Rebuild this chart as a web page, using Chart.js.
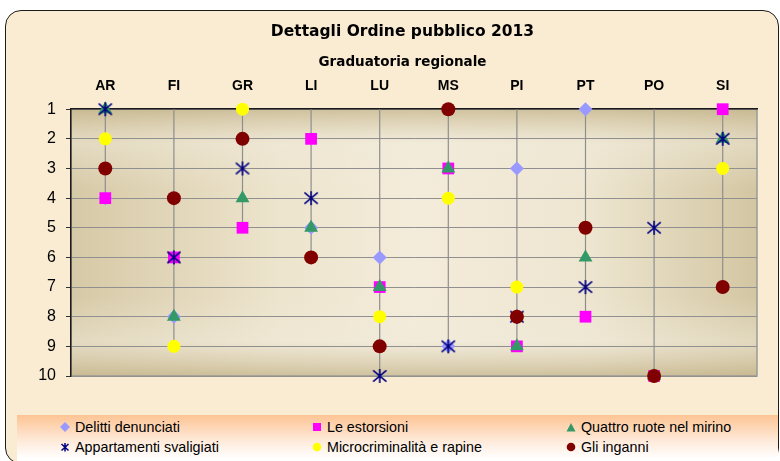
<!DOCTYPE html>
<html><head><meta charset="utf-8">
<script src="https://cdn.jsdelivr.net/npm/chart.js@4/dist/chart.umd.min.js"></script>
<style>
html,body{margin:0;padding:0;background:#fff;width:780px;height:461px;overflow:hidden;position:relative;}
#frame{position:absolute;left:5px;top:10px;width:774px;height:454px;border:1.5px solid #1c1c1c;border-radius:16px;background:#faecd3;box-sizing:border-box;}
#wrap{position:absolute;left:0;top:0;width:780px;height:461px;}
#legend{position:absolute;left:17px;top:415px;width:761px;height:46px;background:linear-gradient(#fdc494,#fee9d8 55%,#fff 95%);font-family:"Liberation Sans",Arial,sans-serif;font-size:14.3px;color:#000;}
.item{position:absolute;height:16px;line-height:16px;white-space:nowrap;}
.item svg{position:absolute;left:-5px;top:3px;}
.item span{position:absolute;left:10px;top:0;}
</style></head>
<body>
<div id="frame"></div>
<div id="wrap"><canvas id="c" width="780" height="461"></canvas></div>
<div id="legend"></div>
<script>
// ---- data ----
const categories = ['AR','FI','GR','LI','LU','MS','PI','PT','PO','SI'];
const seriesNames = ['Delitti denunciati','Le estorsioni','Quattro ruote nel mirino','Appartamenti svaligiati','Microcriminalità e rapine','Gli inganni'];
const delitti        = [4, 8, 2, 5, 6, 9, 3, 1, 10, 7];
const estorsioni     = [4, 6, 5, 2, 7, 3, 9, 8, 10, 1];
const quattroRuote   = [1, 8, 4, 5, 7, 3, 9, 6, 10, 2];
const appartamenti   = [1, 6, 3, 4, 10, 9, 8, 7, 5, 2];
const microcrimine   = [2, 9, 1, 6, 8, 4, 7, 5, 10, 3];
const inganni        = [3, 4, 2, 6, 9, 1, 8, 5, 10, 7];
const rankTicks      = [1, 2, 3, 4, 5, 6, 7, 8, 9, 10];

const allSeries = [delitti, estorsioni, quattroRuote, appartamenti, microcrimine, inganni];

// star marker (X with vertical stroke), navy
function makeStar(size, lw){
  const c = document.createElement('canvas');
  c.width = size; c.height = size;
  const g = c.getContext('2d');
  g.strokeStyle = '#000080'; g.lineWidth = lw;
  const m = size/2, r = size/2 - 1;
  g.beginPath();
  g.moveTo(m - r*0.95, m - r*0.8); g.lineTo(m + r*0.95, m + r*0.8);
  g.moveTo(m + r*0.95, m - r*0.8); g.lineTo(m - r*0.95, m + r*0.8);
  g.moveTo(m, m - r); g.lineTo(m, m + r);
  g.stroke();
  return c;
}
const starImg = makeStar(16, 1.6);

const styles = [
  {color:'#9999ff', pointStyle:'rectRot', radius:7},
  {color:'#ff00ff', pointStyle:'rect', radius:8.3},
  {color:'#339966', pointStyle:'triangle', radius:8},
  {color:'#000080', pointStyle:starImg, radius:8},
  {color:'#ffff00', pointStyle:'circle', radius:6.5},
  {color:'#800000', pointStyle:'circle', radius:7}
];

const dropMax = categories.map((_, i) => Math.max(...allSeries.map(s => s[i])));

const datasets = allSeries.map((s, i) => ({
  type: 'line',
  label: seriesNames[i],
  data: s,
  showLine: false,
  pointStyle: styles[i].pointStyle,
  pointRadius: styles[i].radius,
  pointBackgroundColor: styles[i].color,
  pointBorderColor: styles[i].color,
  pointBorderWidth: 0,
  backgroundColor: styles[i].color,
  borderColor: styles[i].color,
  order: 5 - i,
  clip: false
}));
datasets.push({
  type: 'bar',
  label: 'drop',
  data: dropMax.map(m => [1, m]),
  backgroundColor: '#8e8e8e',
  borderWidth: 0,
  inflateAmount: 0,
  barThickness: 1.2,
  order: 10,
  clip: false
});

const plotBg = {
  id: 'plotBg',
  afterLayout(chart){
    // title block is centred over the region right of the y-axis labels
    chart.boxes.forEach(b => {
      if (b.options && typeof b.options.text === 'string' && b.fullSize) b.left = 48;
    });
  },
  beforeDraw(chart){
    const {ctx, chartArea:a} = chart;
    ctx.save();
    const h = ctx.createLinearGradient(a.left, 0, a.right, 0);
    h.addColorStop(0, '#d6c9a6');
    h.addColorStop(0.3, '#ede4cd');
    h.addColorStop(0.5, '#f4ecda');
    h.addColorStop(0.75, '#eee6d1');
    h.addColorStop(1, '#d3c6a2');
    ctx.fillStyle = h;
    ctx.fillRect(a.left, a.top, a.width, a.height);
    const v = ctx.createLinearGradient(0, a.top, 0, a.bottom);
    v.addColorStop(0, 'rgba(196,180,138,0.75)');
    v.addColorStop(0.13, 'rgba(240,234,218,0.5)');
    v.addColorStop(0.3, 'rgba(240,234,218,0)');
    v.addColorStop(0.7, 'rgba(240,234,218,0)');
    v.addColorStop(0.87, 'rgba(240,234,218,0.5)');
    v.addColorStop(1, 'rgba(196,180,138,0.75)');
    ctx.fillStyle = v;
    ctx.fillRect(a.left, a.top, a.width, a.height);
    ctx.strokeStyle = '#9a9a9a';
    ctx.lineWidth = 1.5;
    ctx.strokeRect(a.left, a.top, a.width, a.height);
    ctx.restore();
  }
};

new Chart(document.getElementById('c'), {
  data: { labels: categories, datasets },
  options: {
    responsive: false,
    animation: false,
    events: [],
    layout: { padding: { left: 0, right: 23, top: 0, bottom: 85 } },
    plugins: {
      legend: { display: false },
      tooltip: { enabled: false },
      title: { display: true, text: 'Dettagli Ordine pubblico 2013', color: '#000',
        font: { family: 'DejaVu Sans', size: 15.5, weight: 'bold' }, padding: { top: 23, bottom: 0 } },
      subtitle: { display: true, text: 'Graduatoria regionale', color: '#000',
        font: { family: 'DejaVu Sans', size: 13.5, weight: 'bold' }, padding: { top: 13, bottom: 0 } }
    },
    scales: {
      x: {
        type: 'category', position: 'top', offset: true,
        grid: { display: false, drawTicks: false },
        border: { display: true, color: '#1a1a1a', width: 1.5 },
        ticks: { color: '#000', padding: 14.6, font: { family: 'Liberation Sans', size: 14, weight: 'bold' } },
        afterFit(s){ s.height = 38.4; }
      },
      y: {
        type: 'linear', reverse: true, min: 1, max: 10,
        afterBuildTicks(s){ s.ticks = rankTicks.map(v => ({ value: v })); },
        grid: { color: '#909090', lineWidth: 1, tickLength: 5, tickColor: '#333' },
        border: { display: true, color: '#1a1a1a', width: 1.5 },
        ticks: { color: '#000', padding: 10, font: { family: 'Liberation Sans', size: 16 } },
        afterFit(s){ s.width = 71; }
      }
    }
  },
  plugins: [plotBg]
});

// ---- HTML legend ----
function markerSvg(i){
  const c = styles[i].color;
  const shapes = [
    `<polygon points="5,0 10,5 5,10 0,5" fill="${c}"/>`,
    `<rect x="1" y="1" width="8" height="8" fill="${c}"/>`,
    `<polygon points="5,1 9.5,9.5 0.5,9.5" fill="${c}"/>`,
    `<path d="M1.5,2 L8.5,8.5 M8.5,2 L1.5,8.5 M5,1 L5,9.5" stroke="${c}" stroke-width="1.5"/>`,
    `<circle cx="5" cy="5" r="4.3" fill="${c}"/>`,
    `<circle cx="5" cy="5" r="4.3" fill="${c}"/>`
  ];
  return `<svg width="10" height="10" viewBox="0 0 10 10">${shapes[i]}</svg>`;
}
const legendCols = [48, 300, 554];
const legendRows = [4, 24];
const lg = document.getElementById('legend');
seriesNames.forEach((name, i) => {
  const d = document.createElement('div');
  d.className = 'item';
  d.style.left = legendCols[i % 3] + 'px';
  d.style.top = legendRows[Math.floor(i / 3)] + 'px';
  d.innerHTML = markerSvg(i) + '<span>' + name + '</span>';
  lg.appendChild(d);
});
</script>
</body></html>
